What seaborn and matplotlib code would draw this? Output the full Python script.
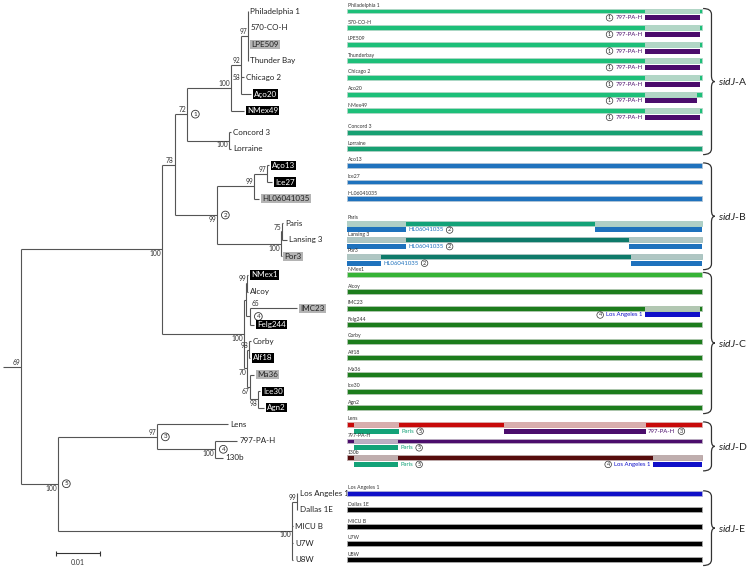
import matplotlib
matplotlib.use("Agg")
import matplotlib.pyplot as plt
from matplotlib.path import Path
from matplotlib.patches import PathPatch
from matplotlib.colors import to_rgb
import seaborn as sns

# sidJ phylogeny (Newick, branch lengths = substitutions/site)
tree_newick = (
    "(((((((Philadelphia 1:0,570-CO-H:0,LPE509:0,Thunder Bay:0)A97:0.00159,"
    "Chicago 2:0.00068,Aço20:0.00227)A92:0.00227,NMex49:0.00295)A1:0.01,"
    "(Concord 3:0.00045,Lorraine:0.00045)A2:0.00955)A:0.00273,"
    "(((Aço13:0.00045,Ice27:0.00114)B97:0.00295,HL06041035:0.00114)B99:0.00841,"
    "((Paris:0.00023,Lansing 3:0.00114)B75:0.00023,Por3:0.00011)B100:0.01455)B:0.00955)AB:0.00295,"
    "(((NMex1:0.00023,Alcoy:0.00023)C99:0.00023,(IMC23:0.01068,Felg244:0.00091)C65:0.00091)Cu:0.00045,"
    "((Corby:0.00045,Alf18:0.00023)C98:0.00045,(Ma36:0.00091,(Ice30:0.00045,Agn2:0.00136)C98b:0.00182)C67:0.00068)C70:0.00068)C:0.01864)U:0.03205,"
    "((Lens:0.01614,(797-PA-H:0.005,130b:0.00182)D100:0.01318)D97:0.0225,"
    "((Los Angeles 1:0.00011,Dallas 1E:0.00011)E99:0.00114,MICU B:0.00023,U7W:0.00023,U8W:0.00023)E:0.05318)D5:0.00841)root;"
)

# bootstrap support
support = {"root": 69, "U": 100, "AB": 78, "A": 72, "A1": 100, "A92": 92, "A97": 97,
           "Chicago 2": 58, "A2": 100, "B": 99, "B99": 99, "B97": 97, "B100": 100,
           "B75": 75, "C": 100, "C99": 99, "C65": 65, "C70": 70, "C98": 98, "C67": 67,
           "C98b": 98, "D5": 100, "D97": 97, "D100": 100, "E": 100, "E99": 99}

# recombination event numbers on the tree
event_nodes = {"A": 1, "B": 2, "D97": 3, "D100": 4, "C65": 4, "D5": 5}

# strain order (top to bottom) and right-panel data
strains = ["Philadelphia 1", "570-CO-H", "LPE509", "Thunder Bay", "Chicago 2", "Aço20",
           "NMex49", "Concord 3", "Lorraine", "Aço13", "Ice27", "HL06041035", "Paris",
           "Lansing 3", "Por3", "NMex1", "Alcoy", "IMC23", "Felg244", "Corby", "Alf18",
           "Ma36", "Ice30", "Agn2", "Lens", "797-PA-H", "130b", "Los Angeles 1",
           "Dallas 1E", "MICU B", "U7W", "U8W"]
bar_names = {"Thunder Bay": "Thunderbay", "Aço20": "Aco20", "Aço13": "Aco13"}
sidj_type = ["A"] * 9 + ["B"] * 6 + ["C"] * 9 + ["D"] * 3 + ["E"] * 5
lineage = (["A"] * 7 + ["A2"] * 2 + ["B"] * 3 + ["Paris", "B2", "B2"] + ["C1"]
           + ["C"] * 8 + ["Lens", "797", "130b"] + ["LA"] + ["E"] * 4)
black_box = ["Aço20", "NMex49", "Aço13", "Ice27", "NMex1", "Felg244", "Alf18", "Ice30", "Agn2"]
grey_box = ["LPE509", "HL06041035", "Por3", "IMC23", "Ma36"]

GENE_LEN = 2622
# recombinant regions: (start, end, donor, event)
events = {
    "Philadelphia 1": [(2201, 2607, "797-PA-H", 1)],
    "570-CO-H": [(2201, 2607, "797-PA-H", 1)],
    "LPE509": [(2201, 2607, "797-PA-H", 1)],
    "Thunder Bay": [(2201, 2607, "797-PA-H", 1)],
    "Chicago 2": [(2201, 2607, "797-PA-H", 1)],
    "Aço20": [(2201, 2585, "797-PA-H", 1)],
    "NMex49": [(2201, 2607, "797-PA-H", 1)],
    "Paris": [(0, 436, "HL06041035", 2), (1832, 2622, "HL06041035", 2)],
    "Lansing 3": [(0, 436, "HL06041035", 2), (2083, 2622, "HL06041035", 2)],
    "Por3": [(0, 251, "HL06041035", 2), (2098, 2622, "HL06041035", 2)],
    "IMC23": [(2201, 2607, "Los Angeles 1", 4)],
    "Lens": [(52, 384, "Paris", 5), (1160, 2208, "797-PA-H", 3)],
    "797-PA-H": [(52, 377, "Paris", 5)],
    "130b": [(52, 377, "Paris", 5), (2260, 2622, "Los Angeles 1", 4)],
}

# ---- styles / layout ----
colors = {"A": "#1DBF79", "A2": "#17A072", "B": "#1F72BD", "Paris": "#13A278",
          "B2": "#0E7A6A", "C1": "#36B336", "C": "#1C7C1C", "Lens": "#C80A0A",
          "797": "#4B0D6C", "130b": "#560C0C", "LA": "#1010C8", "E": "#000000"}
gap_after = {"NMex49": 0.3, "HL06041035": 0.48, "Por3": 0.12, "130b": 1.15}
label_pos = {"U": "b", "A2": "b", "B": "b", "B100": "b", "C": "b", "C70": "b",
             "C67": "b", "C98b": "b", "D5": "b", "D100": "b", "E": "b",
             "Chicago 2": "l", "C65": "t"}
LINE = "#555555"
BAR_H = 0.3
DON_OFF = 0.41

sns.set_theme(style="white")
plt.rcParams["font.family"] = ["Lato", "DejaVu Sans"]
plt.rcParams["mathtext.fontset"] = "custom"
plt.rcParams["mathtext.it"] = "Lato:italic"
plt.rcParams["mathtext.rm"] = "Lato"


def parse_newick(s):
    pos = 0

    def node():
        nonlocal pos
        kids = []
        if s[pos] == "(":
            pos += 1
            kids.append(node())
            while s[pos] == ",":
                pos += 1
                kids.append(node())
            pos += 1
        j = pos
        while s[pos] not in ":,);":
            pos += 1
        name = s[j:pos]
        bl = 0.0
        if s[pos] == ":":
            pos += 1
            j = pos
            while s[pos] not in ",);":
                pos += 1
            bl = float(s[j:pos])
        return {"name": name, "bl": bl, "children": kids}

    return node()


def walk(n):
    yield n
    for c in n["children"]:
        yield from walk(c)


def tint(c, w=0.22):
    r = to_rgb(c)
    return tuple(w * v + (1 - w) * 0.863 for v in r)


# row positions
row_y = {}
y = 0.0
for s in strains:
    row_y[s] = y
    y += 1 + gap_after.get(s, 0)

tree = parse_newick(tree_newick)


def place(n, x0):
    n["x"] = x0 + n["bl"]
    for c in n["children"]:
        place(c, n["x"])
    if n["children"]:
        n["y"] = (n["children"][0]["y"] + n["children"][-1]["y"]) / 2
    else:
        n["y"] = row_y[n["name"]]


place(tree, 0.0)

fig = plt.figure(figsize=(7.48, 5.69), dpi=100)
ylim = (33.61, -0.663)

# ---------------- tree ----------------
ax = fig.add_axes([0, 0, 340 / 748, 1])
ax.set_xlim(-21 / 4400, 319 / 4400)
ax.set_ylim(*ylim)
ax.axis("off")

hx0, hx1, hy, vx, vy0, vy1 = [], [], [], [], [], []
for n in walk(tree):
    if n["children"]:
        vx.append(n["x"])
        vy0.append(n["children"][0]["y"])
        vy1.append(n["children"][-1]["y"])
        for c in n["children"]:
            hx0.append(n["x"])
            hx1.append(c["x"])
            hy.append(c["y"])
ax.hlines(hy, hx0, hx1, color=LINE, lw=0.8)
ax.vlines(vx, vy0, vy1, color=LINE, lw=0.8)
ax.hlines(tree["y"], -0.0041, 0, color=LINE, lw=0.8)

parents = {}
for n in walk(tree):
    for c in n["children"]:
        parents[c["name"]] = n

for n in walk(tree):
    name = n["name"]
    if not n["children"]:
        if name in black_box:
            ax.annotate(name, (n["x"], n["y"]), xytext=(2.2, 0), textcoords="offset points",
                        ha="left", va="center", fontsize=5.8, color="white",
                        bbox=dict(boxstyle="square,pad=0.14", fc="black", ec="none"))
        elif name in grey_box:
            ax.annotate(name, (n["x"], n["y"]), xytext=(2.2, 0), textcoords="offset points",
                        ha="left", va="center", fontsize=5.8, color="#222222",
                        bbox=dict(boxstyle="square,pad=0.14", fc="#B4B4B4", ec="none"))
        else:
            ax.annotate(name, (n["x"], n["y"]), xytext=(1.5, 0), textcoords="offset points",
                        ha="left", va="center", fontsize=5.8, color="#222222")
    if name in support:
        mode = label_pos.get(name, "a")
        txt = str(support[name])
        kw = dict(textcoords="offset points", fontsize=4.8, color="#333333")
        if mode == "a":
            ax.annotate(txt, (n["x"], n["y"]), xytext=(-0.8, 0.6), ha="right", va="bottom", **kw)
        elif mode == "b":
            ax.annotate(txt, (n["x"], n["y"]), xytext=(-0.8, -0.6), ha="right", va="top", **kw)
        elif mode == "l":
            ax.annotate(txt, (parents[name]["x"], n["y"]), xytext=(-0.8, 0), ha="right",
                        va="center", **kw)
        elif mode == "t":
            ax.annotate(txt, (n["x"], n["children"][0]["y"]), xytext=(0.8, 0.6), ha="left",
                        va="bottom", **kw)
    if name in event_nodes:
        ax.annotate(str(event_nodes[name]), (n["x"], n["y"]), xytext=(6, 0),
                    textcoords="offset points", ha="center", va="center", fontsize=4.5,
                    bbox=dict(boxstyle="circle,pad=0.22", fc="white", ec="#333333", lw=0.6))

# scale bar
SCALE_Y = 32.65
ax.hlines(SCALE_Y, 0.008, 0.018, color="#333333", lw=0.8)
ax.vlines([0.008, 0.018], SCALE_Y - 0.15, SCALE_Y + 0.15, color="#333333", lw=0.8)
ax.text(0.013, SCALE_Y + 0.55, "0.01", ha="center", va="center", fontsize=5, color="#333333")

# ---------------- recombination bars ----------------
bx = fig.add_axes([347 / 748, 0, 401 / 748, 1])
bx.set_xlim(0, 401 / (355 / GENE_LEN))
bx.set_ylim(*ylim)
bx.axis("off")

for s, lin in zip(strains, lineage):
    yy = row_y[s]
    base = colors[lin]
    light = tint(base)
    bx.barh(yy, GENE_LEN, left=0, height=BAR_H, color=base, edgecolor=light, lw=0.6)
    bx.text(6, yy - BAR_H / 2 - 0.03, bar_names.get(s, s), fontsize=3.7, color="#333333",
            ha="left", va="bottom")
    done = set()
    for start, end, donor, no in events.get(s, []):
        dcol = colors[lineage[strains.index(donor)]]
        bx.barh(yy, end - start, left=start, height=BAR_H, color=light, lw=0)
        bx.barh(yy + DON_OFF, end - start, left=start, height=BAR_H, color=dcol, lw=0)
        if (donor, no) in done:
            continue
        done.add((donor, no))
        circ = dict(boxstyle="circle,pad=0.14", fc="white", ec="#333333", lw=0.5)
        if start > GENE_LEN / 2:
            t = bx.annotate(donor, (start, yy + DON_OFF), xytext=(-1.5, 0),
                            textcoords="offset points", ha="right", va="center",
                            fontsize=4.3, color=dcol)
            bx.annotate(str(no), (0, 0.5), xycoords=t, xytext=(-4.5, 0),
                        textcoords="offset points", ha="center", va="center",
                        fontsize=4, bbox=circ)
        else:
            t = bx.annotate(donor, (end, yy + DON_OFF), xytext=(1.5, 0),
                            textcoords="offset points", ha="left", va="center",
                            fontsize=4.3, color=dcol)
            bx.annotate(str(no), (1, 0.5), xycoords=t, xytext=(4.5, 0),
                        textcoords="offset points", ha="center", va="center",
                        fontsize=4, bbox=circ)

# brackets with sidJ type labels
for g in ["A", "B", "C", "D", "E"]:
    members = [s for s, t in zip(strains, sidj_type) if t == g]
    top = row_y[members[0]] - 0.15
    bot = row_y[members[-1]] + (0.8 if members[-1] in events else 0.35)
    mid = (top + bot) / 2
    x0, x1, x2, r = GENE_LEN + 8, GENE_LEN + 70, GENE_LEN + 95, 0.35
    verts = [(x0, top), (x1, top), (x1, top + r), (x1, mid - r), (x1, mid), (x2, mid),
             (x1, mid), (x1, mid + r), (x1, bot - r), (x1, bot), (x0, bot)]
    codes = [Path.MOVETO, Path.CURVE3, Path.CURVE3, Path.LINETO, Path.CURVE3, Path.CURVE3,
             Path.CURVE3, Path.CURVE3, Path.LINETO, Path.CURVE3, Path.CURVE3]
    bx.add_patch(PathPatch(Path(verts, codes), fc="none", ec="#333333", lw=0.9))
    bx.text(GENE_LEN + 120, mid, r"$\mathit{sidJ}$-" + g, ha="left", va="center",
            fontsize=7.5, color="#222222")

fig.savefig("out.png", dpi=100)
